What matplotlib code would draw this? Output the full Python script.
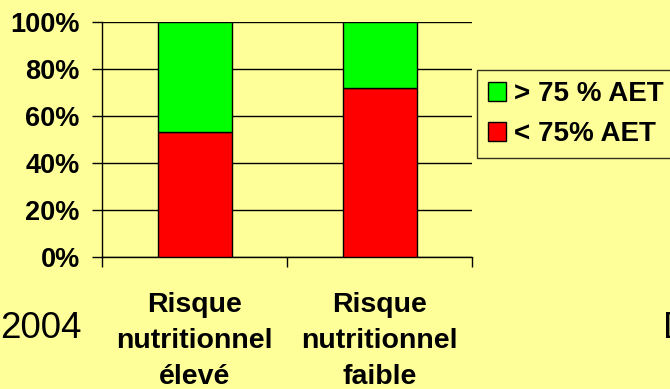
import matplotlib
matplotlib.use("Agg")
import matplotlib.pyplot as plt
from matplotlib.patches import Patch

categories = ["Risque\nnutritionnel\nélevé", "Risque\nnutritionnel\nfaible"]
below_75 = [53, 72]          # < 75% AET (percent)
above_75 = [47, 28]          # > 75 % AET (percent)
series_labels = ["> 75 % AET", "< 75% AET"]
ytick_labels = ["0%", "20%", "40%", "60%", "80%", "100%"]

bg = "#FFFF99"
plt.rcParams["font.family"] = ["Liberation Sans", "DejaVu Sans"]

fig = plt.figure(figsize=(6.7, 3.89), dpi=100, facecolor=bg)
ax = fig.add_axes([102 / 670, 1 - 257 / 389, 370 / 670, 235 / 389], facecolor=bg)

x = list(range(len(categories)))
ax.bar(x, below_75, width=0.4, color="#FF0000", edgecolor="black", linewidth=1, zorder=3)
ax.bar(x, above_75, width=0.4, bottom=below_75, color="#00FF00", edgecolor="black",
       linewidth=1, zorder=3)

ax.set_xlim(-0.5, 1.5)
ax.set_ylim(0, 100)
ax.set_yticks([0, 20, 40, 60, 80, 100])
ax.set_yticklabels(ytick_labels, fontsize=19.5, fontweight="bold")
ax.yaxis.grid(True, color="black", linewidth=1)
ax.set_axisbelow(True)
ax.tick_params(axis="y", direction="out", length=7, width=1, pad=9)

ax.set_xticks([-0.5, 0.5, 1.5])
ax.set_xticklabels([])
ax.tick_params(axis="x", direction="out", length=7, width=1)
ax.set_xticks(x, minor=True)
ax.set_xticklabels(categories, minor=True, fontsize=20.5, fontweight="bold", linespacing=1.5)
ax.tick_params(axis="x", which="minor", length=0, pad=25)

for side in ("top", "right"):
    ax.spines[side].set_visible(False)
for side in ("left", "bottom"):
    ax.spines[side].set_color("black")
    ax.spines[side].set_linewidth(1)

handles = [Patch(facecolor="#00FF00", edgecolor="black"),
           Patch(facecolor="#FF0000", edgecolor="black")]
leg = fig.legend(handles, series_labels, loc="upper left",
                 bbox_to_anchor=(477 / 670, 1 - 70 / 389),
                 prop={"weight": "bold", "size": 20}, frameon=True,
                 facecolor=bg, edgecolor="black", fancybox=False,
                 handlelength=0.65, handleheight=0.65, handletextpad=0.3,
                 borderpad=0.4, labelspacing=0.5, borderaxespad=0)
leg.get_frame().set_linewidth(1)

fig.text(0 / 670, 1 - 329 / 389, "2004", fontsize=26.5, va="center", ha="left")
fig.text(663 / 670, 1 - 329 / 389, "D", fontsize=26.5, va="center", ha="left")

fig.savefig("out.png", dpi=100, facecolor=bg)
